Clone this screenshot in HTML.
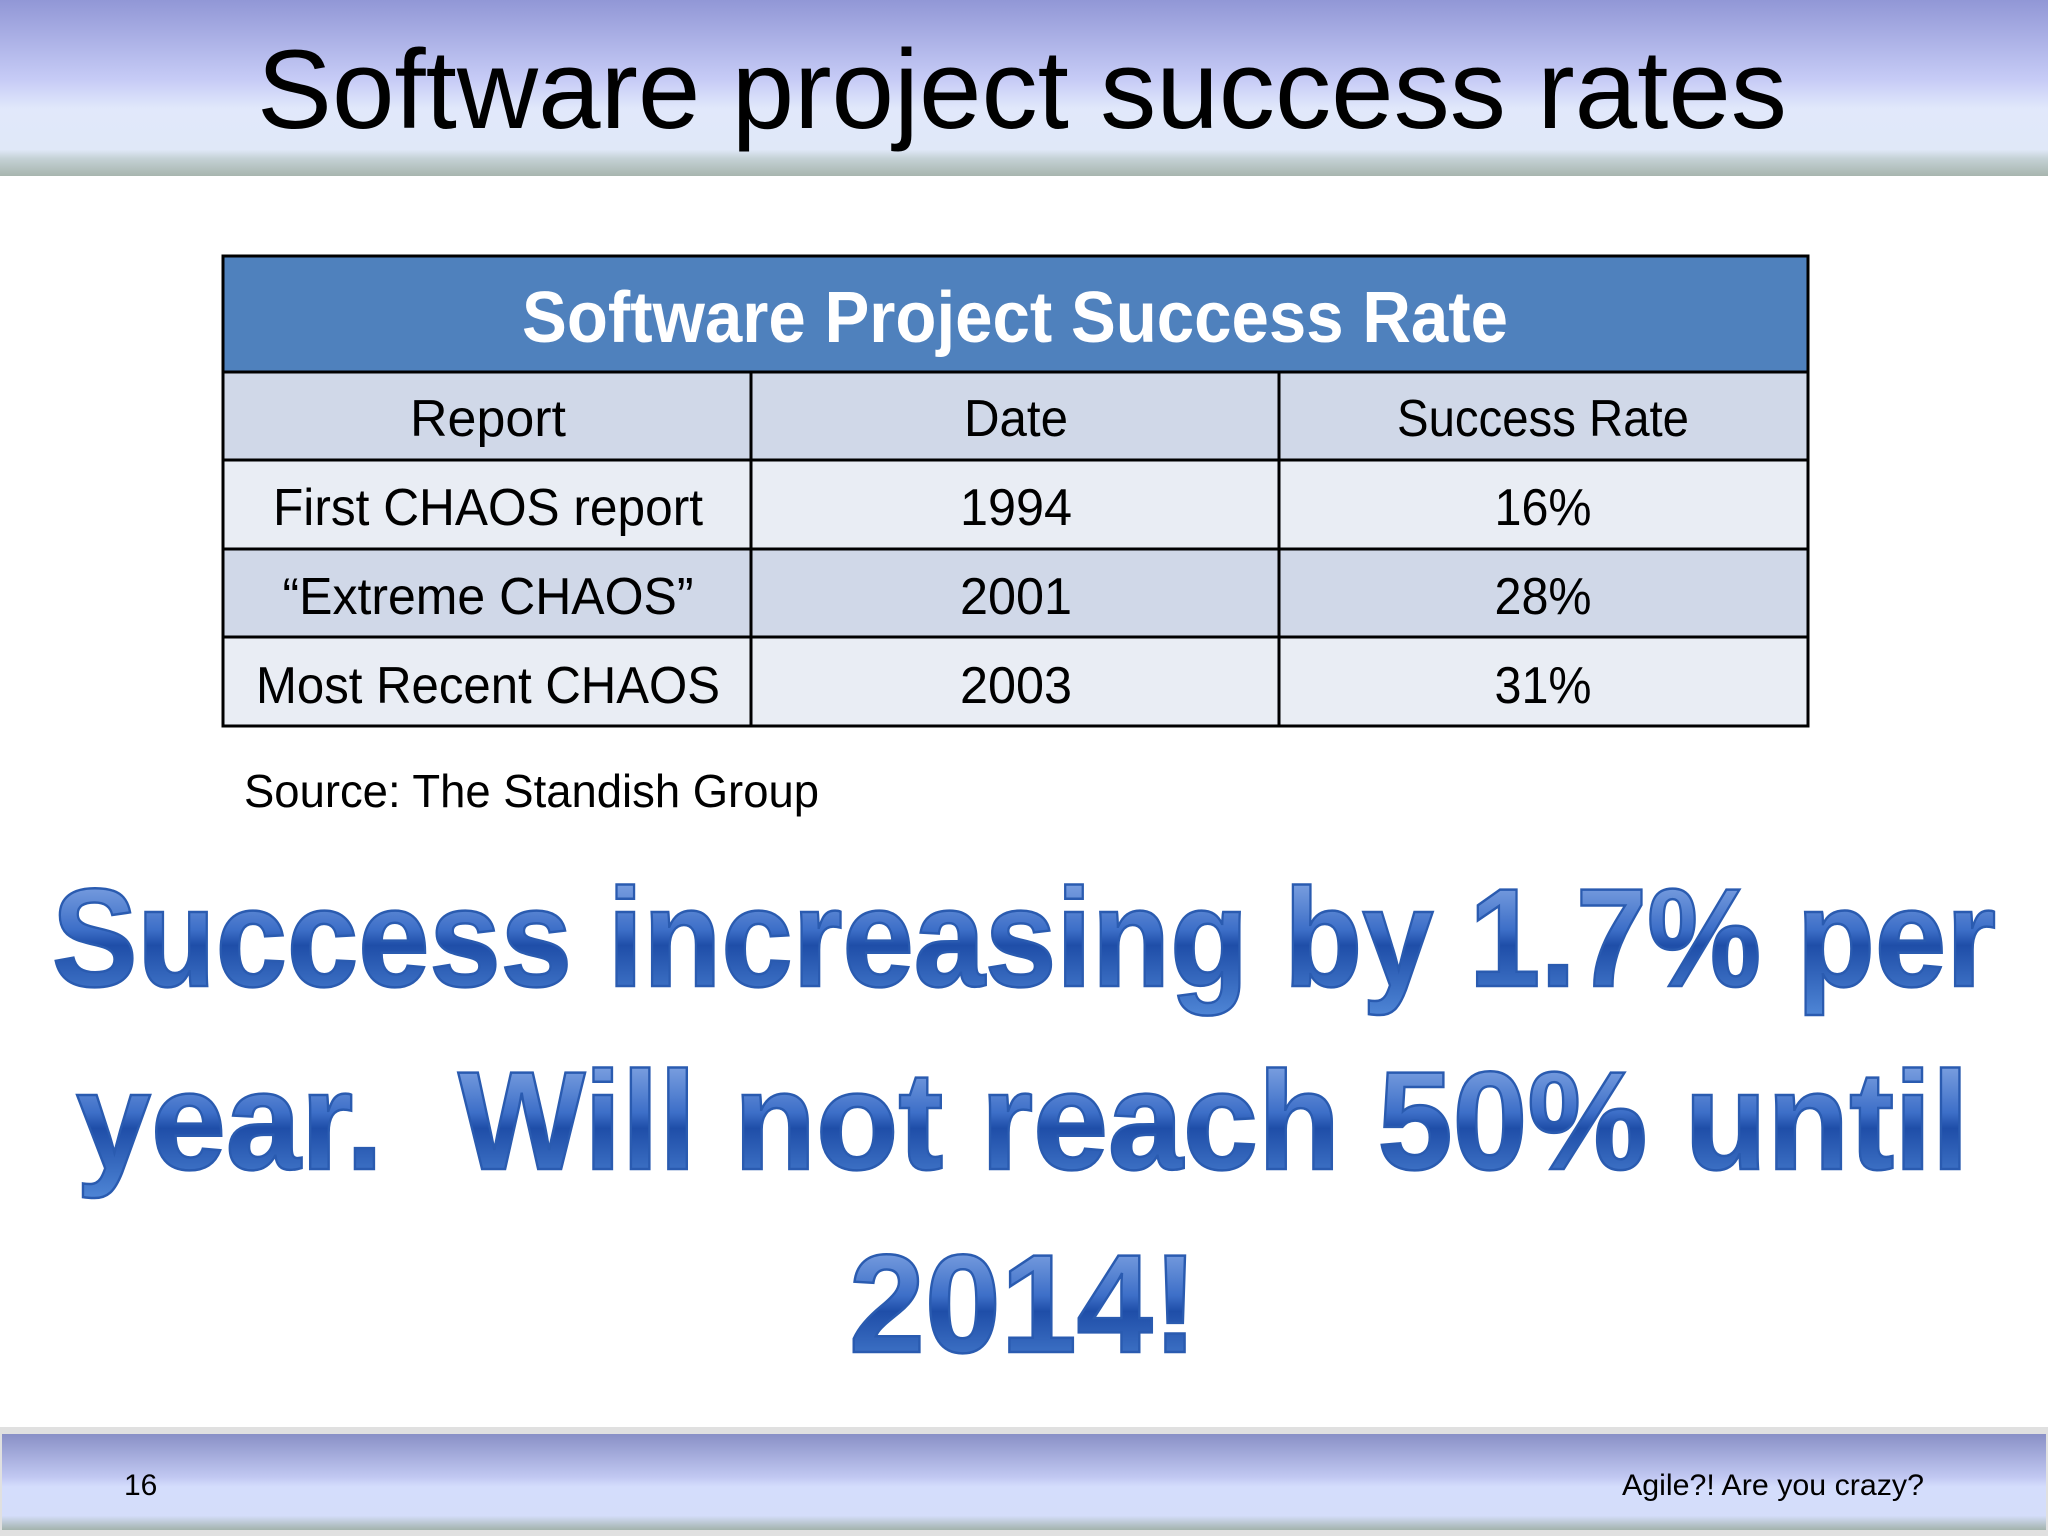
<!DOCTYPE html>
<html><head><meta charset="utf-8"><style>html,body{margin:0;padding:0;background:#fff}svg{display:block}text{font-family:"Liberation Sans",sans-serif}</style></head>
<body>
<svg width="2048" height="1536" viewBox="0 0 2048 1536">
<defs>
<linearGradient id="hdr" x1="0" y1="0" x2="0" y2="1">
<stop offset="0" stop-color="#9197d6"/><stop offset="0.45" stop-color="#c6cbf6"/><stop offset="0.62" stop-color="#e1e8fb"/><stop offset="0.85" stop-color="#e0e8f8"/><stop offset="0.9" stop-color="#c5d2d6"/><stop offset="1" stop-color="#a7b5ae"/></linearGradient>
<linearGradient id="ftr" x1="0" y1="0" x2="0" y2="1">
<stop offset="0" stop-color="#8990c6"/><stop offset="0.45" stop-color="#c1c8f2"/><stop offset="0.55" stop-color="#d4ddfc"/><stop offset="0.85" stop-color="#d4ddfa"/><stop offset="1" stop-color="#a3b3ad"/></linearGradient>
<linearGradient id="big" x1="0" y1="0" x2="0" y2="1">
<stop offset="0" stop-color="#9ab8ec"/><stop offset="0.45" stop-color="#3d6fc8"/><stop offset="0.55" stop-color="#1f4ea8"/><stop offset="1" stop-color="#4f86d6"/></linearGradient>
</defs>
<rect x="0" y="0" width="2048" height="176" fill="url(#hdr)"/>
<text x="257" y="128" font-size="112" textLength="1530" lengthAdjust="spacingAndGlyphs" fill="#000">Software project success rates</text>

<g>
<rect x="223" y="256" width="1585" height="116" fill="#4f81bd"/>
<text x="1015" y="342" font-size="72" font-weight="bold" fill="#fff" text-anchor="middle" textLength="986" lengthAdjust="spacingAndGlyphs">Software Project Success Rate</text>
<rect x="223" y="372" width="1585" height="88" fill="#d0d8e8"/>
<rect x="223" y="460" width="1585" height="89" fill="#e9edf4"/>
<rect x="223" y="549" width="1585" height="88" fill="#d0d8e8"/>
<rect x="223" y="637" width="1585" height="89" fill="#e9edf4"/>
<g stroke="#000" stroke-width="3" fill="none">
<rect x="223" y="256" width="1585" height="470"/>
<line x1="223" y1="372" x2="1808" y2="372"/>
<line x1="223" y1="460" x2="1808" y2="460"/>
<line x1="223" y1="549" x2="1808" y2="549"/>
<line x1="223" y1="637" x2="1808" y2="637"/>
<line x1="751" y1="372" x2="751" y2="726"/>
<line x1="1279" y1="372" x2="1279" y2="726"/>
</g>
<g font-size="52" fill="#000" text-anchor="middle">
<text x="488" y="436" textLength="156" lengthAdjust="spacingAndGlyphs">Report</text>
<text x="1016" y="436" textLength="104" lengthAdjust="spacingAndGlyphs">Date</text>
<text x="1543" y="436" textLength="292" lengthAdjust="spacingAndGlyphs">Success Rate</text>
<text x="488" y="525" textLength="430" lengthAdjust="spacingAndGlyphs">First CHAOS report</text>
<text x="1016" y="525" textLength="112" lengthAdjust="spacingAndGlyphs">1994</text>
<text x="1543" y="525" textLength="97" lengthAdjust="spacingAndGlyphs">16%</text>
<text x="488" y="614" textLength="411" lengthAdjust="spacingAndGlyphs">“Extreme CHAOS”</text>
<text x="1016" y="614" textLength="112" lengthAdjust="spacingAndGlyphs">2001</text>
<text x="1543" y="614" textLength="97" lengthAdjust="spacingAndGlyphs">28%</text>
<text x="488" y="703" textLength="464" lengthAdjust="spacingAndGlyphs">Most Recent CHAOS</text>
<text x="1016" y="703" textLength="112" lengthAdjust="spacingAndGlyphs">2003</text>
<text x="1543" y="703" textLength="97" lengthAdjust="spacingAndGlyphs">31%</text>
</g>
</g>
<text x="244" y="807" font-size="46" textLength="575" lengthAdjust="spacingAndGlyphs" fill="#000">Source: The Standish Group</text>

<g font-size="140" font-weight="bold" fill="url(#big)" stroke="#2a5bb0" stroke-width="2.5">
<text x="52" y="986" textLength="1944" lengthAdjust="spacingAndGlyphs">Success increasing by 1.7% per</text>
<text x="76" y="1169" textLength="1893" lengthAdjust="spacingAndGlyphs" xml:space="preserve">year.  Will not reach 50% until</text>
<text x="849" y="1352" textLength="349" lengthAdjust="spacingAndGlyphs">2014!</text>
</g>

<rect x="0" y="1427" width="2048" height="109" fill="#e0e0e0"/>
<rect x="2" y="1434" width="2044" height="96" fill="url(#ftr)"/>
<text x="124" y="1495" font-size="30" fill="#000">16</text>
<text x="1924" y="1495" font-size="30" fill="#000" text-anchor="end" textLength="302" lengthAdjust="spacingAndGlyphs">Agile?! Are you crazy?</text>
</svg>
</body></html>
